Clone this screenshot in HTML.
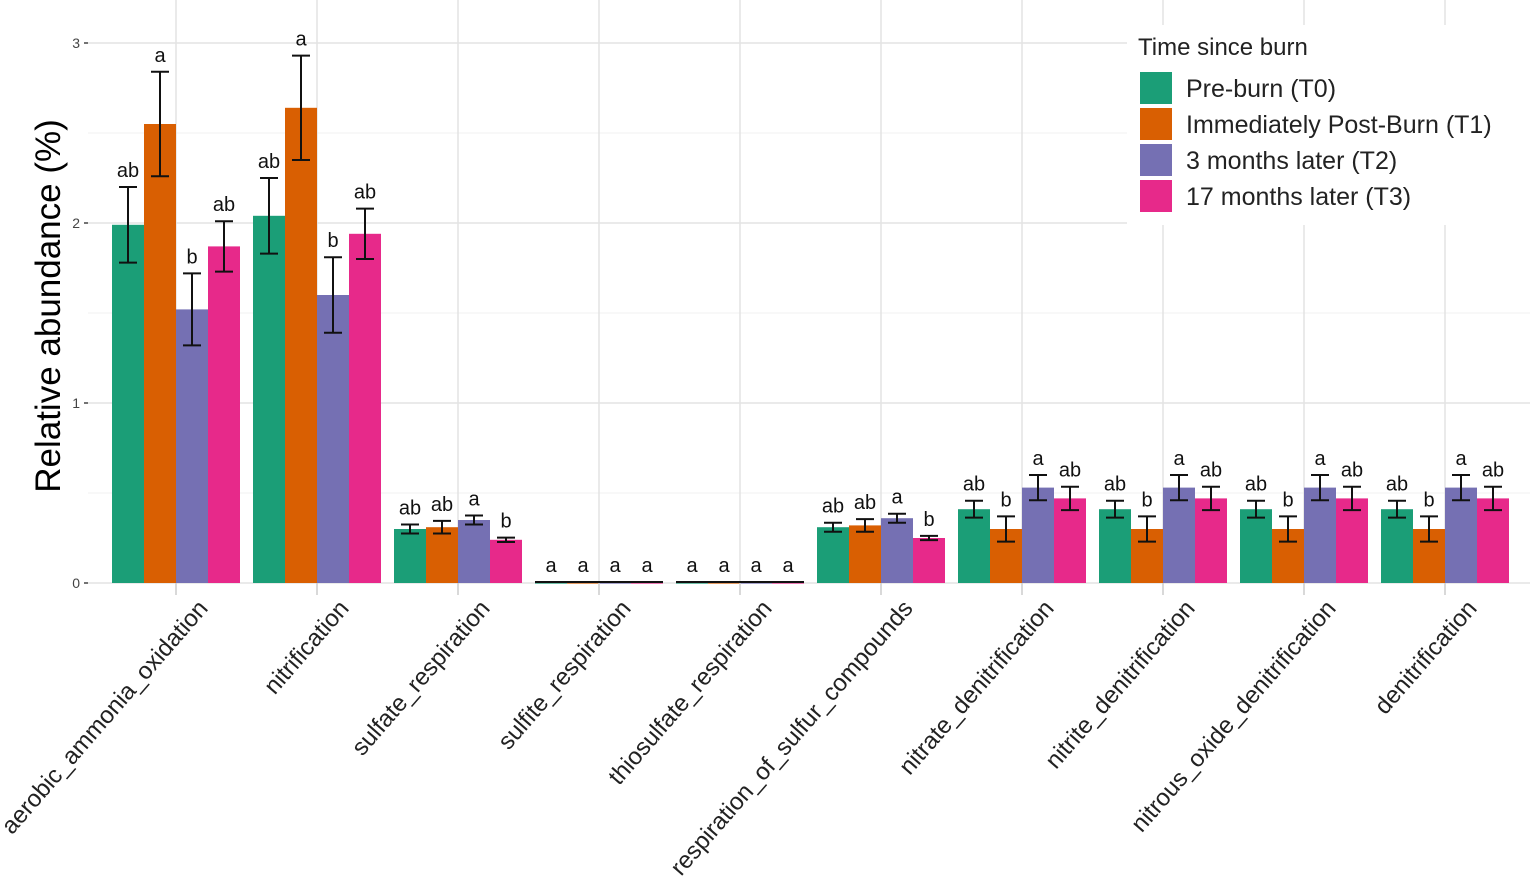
<!DOCTYPE html>
<html><head><meta charset="utf-8"><style>
html,body{margin:0;padding:0;background:#fff;}
svg{display:block;font-family:"Liberation Sans",Arial,sans-serif;}
</style></head><body>
<svg id="chart" width="1535" height="888"></svg>
<script>
const categories=["aerobic_ammonia_oxidation","nitrification","sulfate_respiration","sulfite_respiration","thiosulfate_respiration","respiration_of_sulfur_compounds","nitrate_denitrification","nitrite_denitrification","nitrous_oxide_denitrification","denitrification"];
const seriesNames=["Pre-burn (T0)","Immediately Post-Burn (T1)","3 months later (T2)","17 months later (T3)"];
const colors=["#1b9e77","#d95f02","#7570b3","#e7298a"];
const t0=[1.99,2.04,0.30,0.005,0.005,0.31,0.41,0.41,0.41,0.41];
const t1=[2.55,2.64,0.31,0.005,0.005,0.32,0.30,0.30,0.30,0.30];
const t2=[1.52,1.60,0.35,0.005,0.005,0.36,0.53,0.53,0.53,0.53];
const t3=[1.87,1.94,0.24,0.005,0.005,0.25,0.47,0.47,0.47,0.47];
const e0=[0.21,0.21,0.025,0,0,0.025,0.047,0.047,0.047,0.047];
const e1=[0.29,0.29,0.035,0,0,0.035,0.07,0.07,0.07,0.07];
const e2=[0.20,0.21,0.025,0,0,0.025,0.07,0.07,0.07,0.07];
const e3=[0.14,0.14,0.012,0,0,0.012,0.065,0.065,0.065,0.065];
const l0=["ab","ab","ab","a","a","ab","ab","ab","ab","ab"];
const l1=["a","a","ab","a","a","ab","b","b","b","b"];
const l2=["b","b","a","a","a","a","a","a","a","a"];
const l3=["ab","ab","b","a","a","b","ab","ab","ab","ab"];
const yTicks=[0,1,2,3];
const yMinor=[0.5,1.5,2.5];

const values=[t0,t1,t2,t3], errs=[e0,e1,e2,e3], letters=[l0,l1,l2,l3];
const NS="http://www.w3.org/2000/svg";
const svg=document.getElementById('chart');
const GX0=88,GX1=1530;
const X0=105.5,X1=1515.5,Y0=583,PX=180;
const y=v=>Y0-v*PX;
const step=(X1-X0)/categories.length;
const xc=i=>X0+step*(i+0.5);
const BW=32;
function mk(tag,attrs,parent){const e=document.createElementNS(NS,tag);for(const k in attrs)e.setAttribute(k,attrs[k]);(parent||svg).appendChild(e);return e;}

const grid=mk('g',{});


yMinor.forEach(v=>{mk('line',{x1:GX0,x2:GX1,y1:y(v),y2:y(v),stroke:'#f0f0f0','stroke-width':1},grid);});
yTicks.forEach(v=>{mk('line',{x1:GX0,x2:GX1,y1:y(v),y2:y(v),stroke:'#e3e3e3','stroke-width':1.5},grid);});
categories.forEach((c,i)=>{mk('line',{x1:xc(i),x2:xc(i),y1:0,y2:Y0,stroke:'#e3e3e3','stroke-width':1.5},grid);});

const yAxis=mk('g',{});


yTicks.forEach(v=>{
  mk('line',{x1:GX0-4,x2:GX0,y1:y(v),y2:y(v),stroke:'#444','stroke-width':1.5},yAxis);
  const t=mk('text',{x:GX0-8,y:y(v)+5,'text-anchor':'end','font-size':14,fill:'#444'},yAxis);
  t.textContent=v;
  
  
});
const yt=mk('text',{x:0,y:0,transform:'translate(60,306) rotate(-90)','text-anchor':'middle','font-size':35,fill:'#000'});
yt.textContent='Relative abundance (%)';



const bars=mk('g',{});


categories.forEach((c,i)=>{
  const gx=xc(i)-2*BW;
  mk('line',{x1:xc(i),x2:xc(i),y1:Y0,y2:Y0+12,stroke:'#ccc','stroke-width':1.5});
  values.forEach((s,k)=>{
    const x=gx+k*BW, v=s[i], e=errs[k][i];
    const r=mk('rect',{x:x,y:y(v),width:BW,height:Math.max(Y0-y(v),1.5),fill:colors[k]},bars);
    
    
    const cx=x+BW/2;
    if(e>0){
      const eg=mk('g',{stroke:'#111','stroke-width':2},bars);
      
      
      mk('line',{x1:cx,x2:cx,y1:y(v+e),y2:y(v-e)},eg);
      mk('line',{x1:cx-9,x2:cx+9,y1:y(v+e),y2:y(v+e)},eg);
      mk('line',{x1:cx-9,x2:cx+9,y1:y(v-e),y2:y(v-e)},eg);
    } else {
      const z=mk('line',{x1:x,x2:x+BW,y1:Y0-1,y2:Y0-1,stroke:'#111','stroke-width':2},bars);
      
      
    }
    const lt=mk('text',{x:cx,y:y(v+e)-10,'text-anchor':'middle','font-size':20,fill:'#111'},bars);
    lt.textContent=letters[k][i];
    
    
  });
  const t=mk('text',{x:0,y:0,transform:`translate(${xc(i)+33},${Y0+26}) rotate(-49)`,'text-anchor':'end','font-size':24,fill:'#222'});
  t.textContent=c;
  
  
});

const lg=mk('g',{});


mk('rect',{x:1127,y:25,width:405,height:200,fill:'#fff'},lg);
const lt=mk('text',{x:1138,y:55,'font-size':24,fill:'#222'},lg);
lt.textContent='Time since burn';


seriesNames.forEach((n,k)=>{
  const g=mk('g',{},lg);
  
  
  mk('rect',{x:1140,y:72+k*36,width:32,height:32,fill:colors[k]},g);
  const t=mk('text',{x:1186,y:97+k*36,'font-size':25,fill:'#222'},g);
  t.textContent=n;
});
</script>
</body></html>
